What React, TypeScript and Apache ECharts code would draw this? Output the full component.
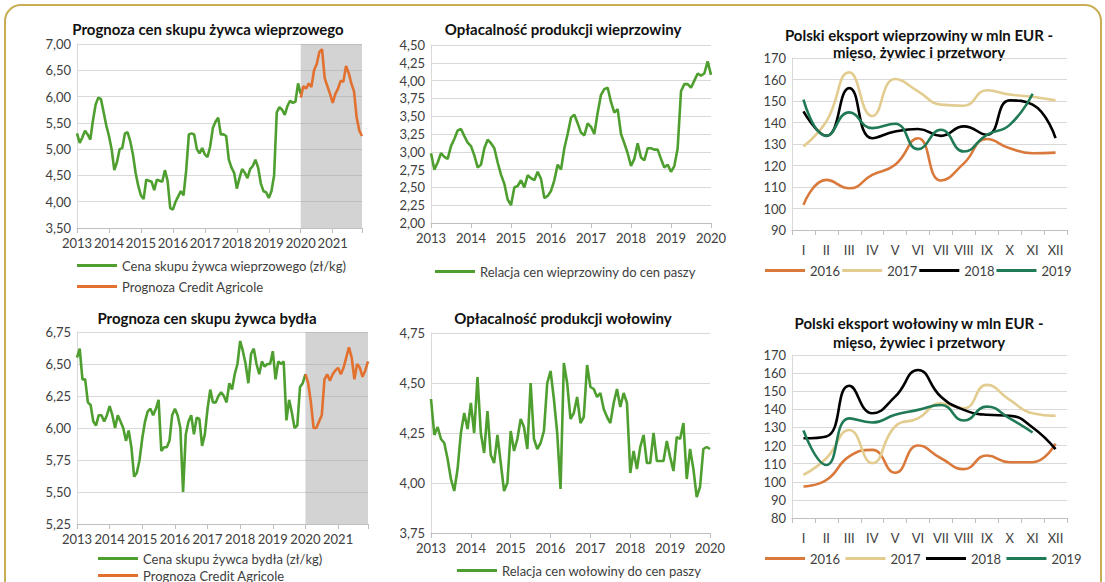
import React, { useEffect, useRef } from "react";
import * as echarts from "echarts";

// ---------- DATA ----------
// Panel 1: pork live price (monthly from 2013-01), forecast from 2020-01
const porkPrice = [
  5.30, 5.12, 5.22, 5.35, 5.28, 5.18, 5.55, 5.85, 5.98, 5.95, 5.70, 5.45,
  5.25, 5.00, 4.60, 4.75, 5.00, 5.02, 5.30, 5.32, 5.15, 4.90, 4.55, 4.30,
  4.12, 4.05, 4.42, 4.40, 4.38, 4.22, 4.42, 4.40, 4.38, 4.60, 4.40, 3.88,
  3.85, 4.00, 4.10, 4.20, 4.12, 4.60, 5.28, 5.30, 5.28, 5.00, 4.92, 5.02,
  4.90, 4.85, 5.05, 5.40, 5.52, 5.60, 5.28, 5.28, 5.25, 4.80, 4.65, 4.55,
  4.25, 4.45, 4.62, 4.55, 4.45, 4.62, 4.68, 4.80, 4.65, 4.35, 4.20, 4.18,
  4.07, 4.20, 4.50, 5.70, 5.80, 5.75, 5.65, 5.82, 5.92, 5.88, 5.90, 6.25,
  6.05,
];
const porkForecast = [
  5.98, 6.20, 6.15, 6.25, 6.18, 6.50, 6.62, 6.85, 6.90, 6.35, 6.20, 6.05,
  5.88, 6.05, 6.15, 6.30, 6.28, 6.58, 6.45, 6.25, 6.10, 5.60, 5.35, 5.25,
];

// Panel 2: pork / feed price ratio
const porkRatio = [
  2.98, 2.75, 2.85, 2.98, 2.93, 2.90, 3.08, 3.18, 3.30, 3.32, 3.22, 3.13,
  3.08, 2.95, 2.78, 2.82, 3.05, 3.17, 3.12, 3.05, 2.85, 2.68, 2.55, 2.33,
  2.25, 2.50, 2.52, 2.60, 2.50, 2.67, 2.63, 2.60, 2.72, 2.62, 2.35, 2.38,
  2.45, 2.60, 2.82, 2.75, 3.05, 3.25, 3.48, 3.52, 3.40, 3.27, 3.23, 3.40,
  3.35, 3.25, 3.55, 3.80, 3.88, 3.90, 3.70, 3.55, 3.60, 3.25, 3.12, 2.98,
  2.80, 2.90, 3.12, 2.92, 2.88, 3.05, 3.05, 3.03, 3.03, 2.90, 2.78, 2.82,
  2.72, 2.80, 3.05, 3.85, 3.95, 3.95, 3.90, 4.00, 4.10, 4.07, 4.10, 4.27,
  4.08,
];

// Panel 3: pork exports (mln EUR)
const months = ["I", "II", "III", "IV", "V", "VI", "VII", "VIII", "IX", "X", "XI", "XII"];
const porkExp2016 = [101.7, 113.3, 109.4, 115.6, 120.3, 132.7, 113.0, 121.0, 132.3, 128.0, 125.7, 126.0];
const porkExp2017 = [128.9, 140.5, 163.3, 143.0, 160.2, 154.5, 148.3, 147.8, 155.0, 153.0, 152.0, 150.3];
const porkExp2018 = [145.2, 133.8, 156.0, 132.7, 135.8, 137.0, 133.8, 138.2, 134.3, 150.3, 148.3, 132.7];
const porkExp2019 = [150.6, 133.8, 144.7, 137.4, 139.4, 127.6, 136.6, 126.5, 134.3, 138.9, 153.4];

// Panel 4: cattle live price
const cattlePrice = [
  6.55, 6.62, 6.38, 6.38, 6.20, 6.18, 6.05, 6.02, 6.10, 6.10, 6.05, 6.10,
  6.17, 6.10, 6.00, 6.10, 6.05, 6.00, 5.90, 5.98, 5.85, 5.62, 5.65, 5.75,
  5.92, 6.05, 6.13, 6.15, 6.10, 6.15, 6.22, 5.82, 5.85, 5.85, 5.90, 6.10,
  6.15, 6.10, 6.00, 5.50, 5.95, 6.05, 6.10, 5.95, 6.08, 6.07, 5.86, 5.95,
  6.15, 6.30, 6.20, 6.20, 6.25, 6.28, 6.25, 6.20, 6.35, 6.30, 6.42, 6.50,
  6.68, 6.60, 6.50, 6.35, 6.58, 6.62, 6.50, 6.42, 6.52, 6.48, 6.50, 6.50,
  6.60, 6.38, 6.52, 6.50, 6.52, 6.06, 6.22, 6.12, 6.00, 6.02, 6.32, 6.35,
  6.42,
];
const cattleForecast = [
  6.42, 6.35, 6.20, 6.00, 6.00, 6.05, 6.10, 6.38, 6.42, 6.37, 6.42, 6.45,
  6.47, 6.42, 6.47, 6.55, 6.63, 6.55, 6.38, 6.50, 6.47, 6.40, 6.45, 6.52,
];

// Panel 5: beef / feed price ratio
const beefRatio = [
  4.42, 4.24, 4.28, 4.22, 4.20, 4.12, 4.02, 3.96, 4.07, 4.25, 4.35, 4.27,
  4.40, 4.25, 4.53, 4.25, 4.15, 4.36, 4.14, 4.10, 4.24, 4.10, 3.96, 4.00,
  4.26, 4.16, 4.22, 4.32, 4.28, 4.17, 4.50, 4.22, 4.17, 4.20, 4.26, 4.50,
  4.56, 4.42, 4.25, 3.97, 4.60, 4.50, 4.32, 4.35, 4.43, 4.30, 4.33, 4.59,
  4.48, 4.47, 4.43, 4.45, 4.37, 4.33, 4.30, 4.40, 4.47, 4.38, 4.45, 4.40,
  4.05, 4.16, 4.07, 4.18, 4.24, 4.10, 4.10, 4.25, 4.11, 4.11, 4.11, 4.21,
  4.13, 4.06, 4.23, 4.22, 4.30, 4.02, 4.17, 4.07, 3.93, 3.98, 4.17, 4.18,
  4.17,
];

// Panel 6: beef exports (mln EUR)
const beefExp2016 = [97.4, 101.0, 114.0, 117.6, 105.0, 120.0, 113.0, 107.0, 114.5, 110.8, 110.8, 121.0];
const beefExp2017 = [103.8, 113.0, 128.6, 110.3, 130.5, 135.0, 143.4, 140.6, 153.5, 145.2, 137.8, 136.4];
const beefExp2018 = [124.0, 125.0, 153.0, 137.8, 147.0, 161.7, 147.0, 139.7, 137.0, 136.5, 130.0, 118.0];
const beefExp2019 = [128.3, 109.3, 135.0, 132.7, 137.0, 139.7, 142.4, 133.8, 141.5, 135.0, 127.2];

const startYear = 2013;
const forecastStart = 84; // 2020-01 as month index

// ---------- STYLE ----------
const FONT = 'Lato, "Open Sans", "Noto Sans", sans-serif';
const GREEN = "#4e9f2f";
const ORANGE = "#e2702f";
const C2016 = "#d9793b";
const C2017 = "#e3cc90";
const C2018 = "#000000";
const C2019 = "#1f7a55";
const GRID = "#d9d9d9";
const AXIS = "#bfbfbf";
const TXT = "#404040";

const comma = (v: number) => v.toFixed(2).replace(".", ",");
const yearFmt = (maxIdx: number) => (v: number) =>
  v % 12 === 0 && v < maxIdx ? String(startYear + v / 12) : "";

export default function App() {
  const ref = useRef<HTMLDivElement>(null);

  useEffect(() => {
    if (!ref.current) return;
    const chart = echarts.init(ref.current, undefined, { renderer: "svg" });

    const grids = [
      { left: 77, top: 44, width: 285, height: 184 },
      { left: 431, top: 45, width: 280, height: 178 },
      { left: 792, top: 58, width: 275, height: 172 },
      { left: 77, top: 332, width: 291, height: 192 },
      { left: 431, top: 333, width: 279, height: 200 },
      { left: 792, top: 355, width: 275, height: 163 },
    ];

    const timeX = (gi: number, max: number, labelMax: number) => ({
      type: "value",
      gridIndex: gi,
      min: 0,
      max,
      interval: 12,
      axisLine: { show: true, lineStyle: { color: AXIS } },
      axisTick: { show: true, length: 5, lineStyle: { color: AXIS } },
      splitLine: { show: false },
      axisLabel: {
        formatter: yearFmt(labelMax),
        color: TXT,
        fontSize: 13,
        fontFamily: FONT,
        margin: 8,
        showMaxLabel: true,
      },
    });
    const catX = (gi: number) => ({
      type: "category",
      gridIndex: gi,
      data: months,
      boundaryGap: true,
      axisLine: { show: true, lineStyle: { color: AXIS } },
      axisTick: { show: true, length: 5, lineStyle: { color: AXIS } },
      axisLabel: { color: TXT, fontSize: 13, fontFamily: FONT, margin: 13, interval: 0 },
    });
    const valY = (gi: number, min: number, max: number, interval: number, fmt?: (v: number) => string) => ({
      type: "value",
      gridIndex: gi,
      min,
      max,
      interval,
      axisLine: { show: true, lineStyle: { color: GRID } },
      axisTick: { show: false },
      splitLine: { show: true, lineStyle: { color: GRID, width: 1 } },
      axisLabel: {
        formatter: fmt ? fmt : (v: number) => String(v),
        color: TXT,
        fontSize: 13,
        fontFamily: FONT,
        margin: 6,
      },
    });

    const lineS = (name: string, gi: number, data: any[], color: string, smooth = false, extra: any = {}) => ({
      name,
      type: "line",
      xAxisIndex: gi,
      yAxisIndex: gi,
      data,
      smooth,
      showSymbol: false,
      symbol: "none",
      lineStyle: { width: 2.6, color },
      itemStyle: { color },
      ...extra,
    });

    const idx = (arr: number[], off = 0) => arr.map((v, i) => [off + i, v]);

    const shade = {
      silent: true,
      itemStyle: { color: "rgba(150,150,150,0.42)" },
      data: [[{ xAxis: forecastStart }, { xAxis: 107 }]],
    };

    const titleText = (text: string, x: number, y: number) => ({
      type: "text",
      x,
      y,
      style: {
        text,
        align: "center",
        verticalAlign: "middle",
        fontSize: 15,
        fontWeight: "bold",
        fontFamily: FONT,
        fill: "#111",
      },
    });

    const legendBase = {
      icon: "rect",
      itemWidth: 40,
      itemHeight: 3,
      padding: 0,
      selectedMode: false,
      textStyle: { color: TXT, fontSize: 13, fontFamily: FONT },
    };

    const option: any = {
      animation: false,
      backgroundColor: "#ffffff",
      grid: grids,
      xAxis: [
        timeX(0, 107, 108),
        timeX(1, 84, 85),
        catX(2),
        timeX(3, 107, 108),
        timeX(4, 84, 85),
        catX(5),
      ],
      yAxis: [
        valY(0, 3.5, 7, 0.5, comma),
        valY(1, 2, 4.5, 0.25, comma),
        valY(2, 90, 170, 10),
        valY(3, 5.25, 6.75, 0.25, comma),
        valY(4, 3.75, 4.75, 0.25, comma),
        valY(5, 80, 170, 10),
      ],
      legend: [
        { ...legendBase, left: 77, top: 259, data: ["Cena skupu żywca wieprzowego (zł/kg)"] },
        { ...legendBase, left: 77, top: 280, data: ["Prognoza Credit Agricole"] },
        { ...legendBase, left: 435, top: 265, data: ["Relacja cen wieprzowiny do cen paszy"] },
        {
          ...legendBase,
          left: 765,
          top: 264,
          itemGap: 2,
          data: ["2016", "2017", "2018", "2019"],
        },
        { ...legendBase, left: 98, top: 552, data: ["Cena skupu żywca bydła (zł/kg)"] },
        { ...legendBase, left: 98, top: 569, data: ["Prognoza Credit Agricole "] },
        { ...legendBase, left: 457, top: 564, data: ["Relacja cen wołowiny do cen paszy"] },
        {
          ...legendBase,
          left: 765,
          top: 552,
          itemGap: 2,
          data: ["2016 ", "2017 ", "2018 ", "2019 "],
        },
      ],
      series: [
        lineS("Cena skupu żywca wieprzowego (zł/kg)", 0, idx(porkPrice), GREEN),
        lineS("Prognoza Credit Agricole", 0, idx(porkForecast, forecastStart), ORANGE, false, { markArea: shade, z: 3 }),
        lineS("Relacja cen wieprzowiny do cen paszy", 1, idx(porkRatio), GREEN),
        lineS("2016", 2, porkExp2016, C2016, true),
        lineS("2017", 2, porkExp2017, C2017, true),
        lineS("2018", 2, porkExp2018, C2018, true),
        lineS("2019", 2, porkExp2019, C2019, true),
        lineS("Cena skupu żywca bydła (zł/kg)", 3, idx(cattlePrice), GREEN),
        lineS("Prognoza Credit Agricole ", 3, idx(cattleForecast, forecastStart), ORANGE, false, { markArea: shade, z: 3 }),
        lineS("Relacja cen wołowiny do cen paszy", 4, idx(beefRatio), GREEN),
        lineS("2016 ", 5, beefExp2016, C2016, true),
        lineS("2017 ", 5, beefExp2017, C2017, true),
        lineS("2018 ", 5, beefExp2018, C2018, true),
        lineS("2019 ", 5, beefExp2019, C2019, true),
      ],
      graphic: [
        {
          type: "rect",
          shape: { x: 5, y: 5, width: 1096, height: 620, r: 16 },
          style: { fill: "none", stroke: "#c8ad52", lineWidth: 2 },
          z: 100,
          silent: true,
        },
        titleText("Prognoza cen skupu żywca wieprzowego", 208, 29),
        titleText("Opłacalność produkcji wieprzowiny", 563, 29),
        titleText("Polski eksport wieprzowiny w mln EUR -", 919, 35),
        titleText("mięso, żywiec i przetwory", 919, 52),
        titleText("Prognoza cen skupu żywca bydła", 207, 318),
        titleText("Opłacalność produkcji wołowiny", 563, 318),
        titleText("Polski eksport wołowiny w mln EUR -", 919, 323),
        titleText("mięso, żywiec i przetwory", 919, 342),
      ],
    };

    chart.setOption(option);
    return () => chart.dispose();
  }, []);

  return (
    <div
      ref={ref}
      style={{ position: "absolute", left: 0, top: 0, width: 1105, height: 582 }}
    />
  );
}
